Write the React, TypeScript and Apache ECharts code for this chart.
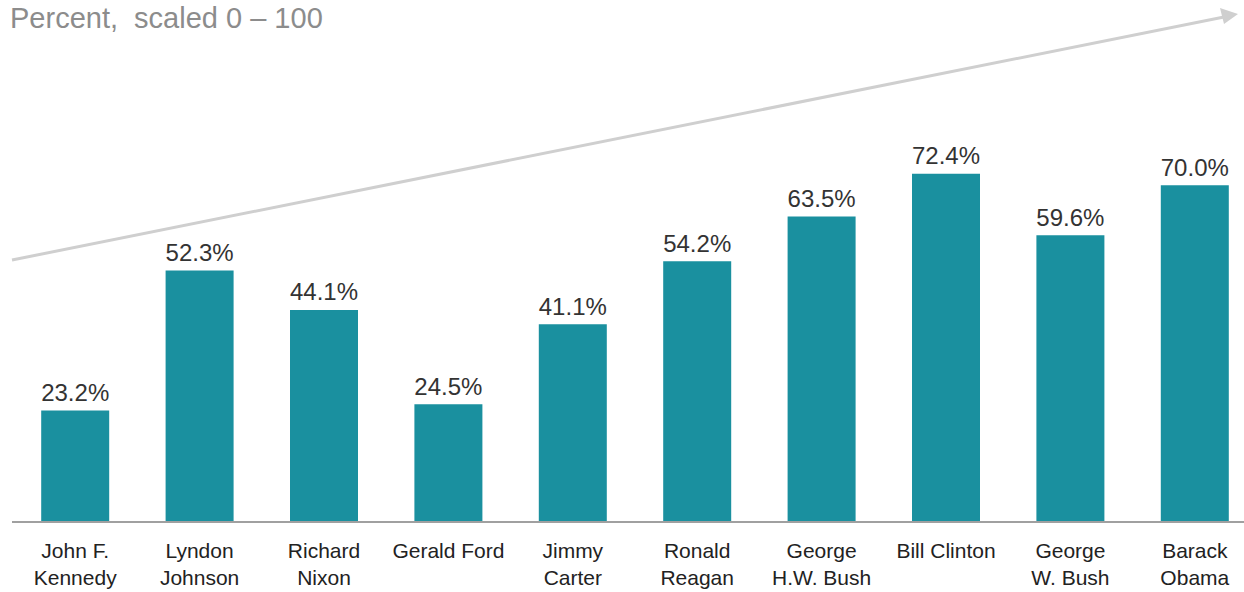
import React, { useEffect, useRef } from "react";
import * as echarts from "echarts";

const categories = [
  "John F.\nKennedy",
  "Lyndon\nJohnson",
  "Richard\nNixon",
  "Gerald Ford",
  "Jimmy\nCarter",
  "Ronald\nReagan",
  "George\nH.W. Bush",
  "Bill Clinton",
  "George\nW. Bush",
  "Barack\nObama",
];
const values = [23.2, 52.3, 44.1, 24.5, 41.1, 54.2, 63.5, 72.4, 59.6, 70.0];
const subtitle = "Percent,  scaled 0 – 100";

export default function App() {
  const ref = useRef<HTMLDivElement>(null);
  useEffect(() => {
    if (!ref.current) return;
    const chart = echarts.init(ref.current, null, { renderer: "svg" });
    chart.setOption({
      animation: false,
      backgroundColor: "#ffffff",
      textStyle: { fontFamily: "Liberation Sans, Arial, sans-serif" },
      grid: { left: 13, width: 1244, top: 41, height: 481, containLabel: false },
      xAxis: {
        type: "category",
        data: categories,
        axisLine: { show: false },
        axisTick: { show: false },
        axisLabel: {
          color: "#222",
          fontSize: 21,
          lineHeight: 27,
          margin: 15,
          interval: 0,
          fontFamily: "Liberation Sans, Arial, sans-serif",
        },
      },
      yAxis: {
        type: "value",
        min: 0,
        max: 100,
        show: false,
      },
      series: [
        {
          type: "bar",
          data: values,
          barWidth: 68,
          itemStyle: { color: "#1a909f" },
          label: {
            show: true,
            position: "top",
            distance: 6,
            color: "#333",
            fontSize: 24,
            fontFamily: "Liberation Sans, Arial, sans-serif",
            formatter: (p: any) => p.value.toFixed(1) + "%",
          },
        },
      ],
      graphic: [
        {
          type: "text",
          left: 10,
          top: 3,
          style: {
            text: subtitle,
            fill: "#8c8c8c",
            fontSize: 29,
            fontFamily: "Liberation Sans, Arial, sans-serif",
          },
        },
        {
          type: "line",
          shape: { x1: 12, y1: 522, x2: 1244, y2: 522 },
          style: { stroke: "#a0a0a0", lineWidth: 2 },
          z: 10,
        },
        {
          type: "line",
          shape: { x1: 12, y1: 260, x2: 1224, y2: 17 },
          style: { stroke: "#cfcfcf", lineWidth: 3 },
        },
        {
          type: "polygon",
          shape: { points: [[1238, 14], [1220, 8], [1224, 24]] },
          style: { fill: "#cfcfcf" },
        },
      ],
    });
    return () => chart.dispose();
  }, []);
  return (
    <div style={{ position: "absolute", left: 0, top: 0, width: 1244, height: 592, overflow: "hidden" }}>
      <div ref={ref} style={{ width: 1260, height: 592 }} />
    </div>
  );
}
